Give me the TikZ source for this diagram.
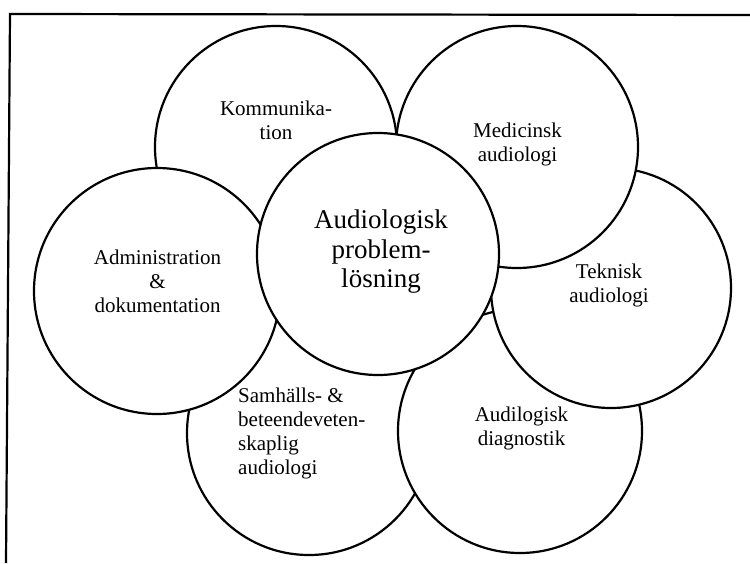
\documentclass[tikz,border=0pt]{standalone}
\usepackage{fontspec}
\setmainfont{Liberation Serif}
\tikzset{
  ring/.style={draw, circle, fill=white, line width=2.2pt, inner sep=0pt},
  lbl/.style={align=center, inner sep=0pt, font=\fontsize{21}{24}\selectfont},
  biglbl/.style={align=center, inner sep=0pt, font=\fontsize{27}{29.5}\selectfont},
  frameline/.style={line width=2.2pt}
}
\begin{document}
\begin{tikzpicture}[x=1pt,y=-1pt]
\useasboundingbox (0,0) rectangle (750,563);
\coordinate (fr) at (750,15);
\coordinate (ftl) at (10,14);
\coordinate (fbl) at (6,563);
\draw[frameline] (fr) -- (ftl) -- (fbl);
% circles, bottom to top
\node[ring, minimum size=242pt] (kom) at (276,147) {};
\node[ring, minimum size=244pt] (sam) at (309,433) {};
\node[ring, minimum size=246pt] (adm) at (157,291) {};
\node[ring, minimum size=244pt] (dia) at (520,431) {};
\node[ring, minimum size=240pt] (tek) at (611,288) {};
\node[ring, minimum size=242pt] (med) at (517,147) {};
\node[ring, minimum size=242pt] (ctr) at (378,254) {};
% texts
\node[lbl] (tkom) at (276,120.5) {Kommunika-\\tion};
\node[lbl] (tmed) at (517.5,144.5) {Medicinsk\\audiologi};
\node[lbl] (tadm) at (157.5,281) {Administration\\\&\\dokumentation};
\node[lbl] (ttek) at (609,285) {Teknisk\\audiologi};
\node[lbl] (tdia) at (521.5,428.5) {Audilogisk\\diagnostik};
\node[lbl, align=left, anchor=west] (tsam) at (238,433) {Samhälls- \&\\beteendeveten-\\skaplig\\audiologi};
\node[biglbl] (tctr) at (381,252) {Audiologisk\\problem-\\lösning};
\end{tikzpicture}
\end{document}
